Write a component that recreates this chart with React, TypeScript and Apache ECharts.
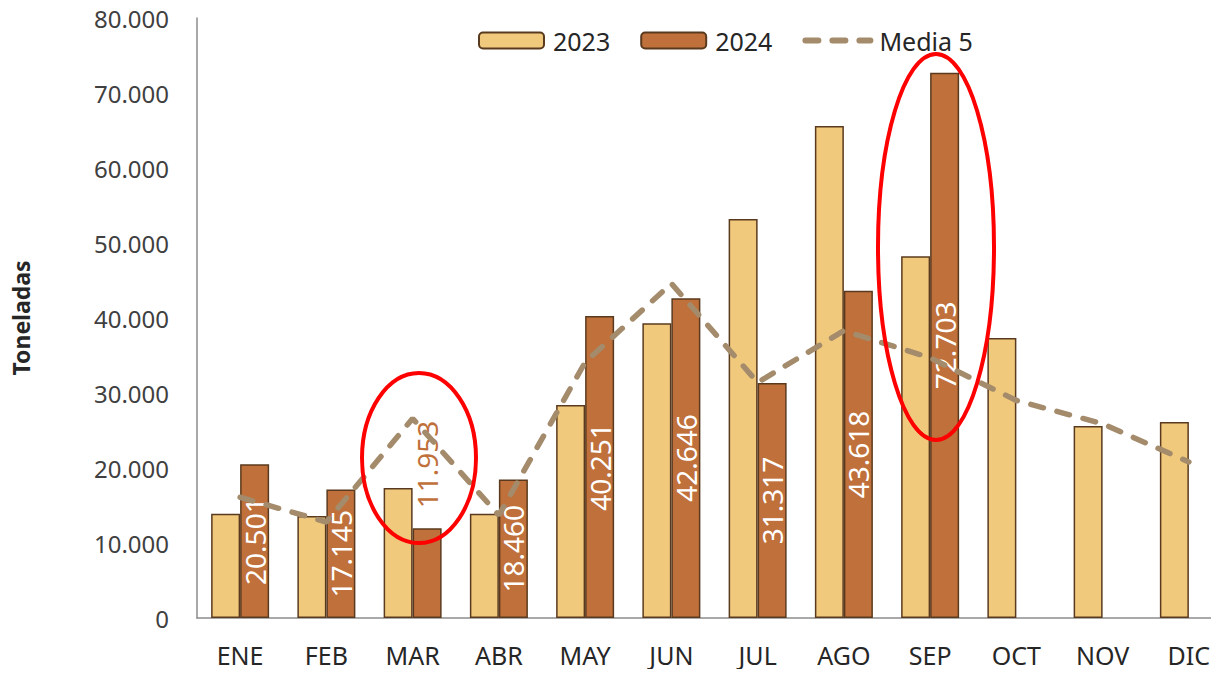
import React, { useEffect, useRef } from "react";
import * as echarts from "echarts";

const categories = ["ENE", "FEB", "MAR", "ABR", "MAY", "JUN", "JUL", "AGO", "SEP", "OCT", "NOV", "DIC"];
const values2023 = [13900, 13600, 17350, 13900, 28400, 39300, 53200, 65600, 48250, 37350, 25600, 26150];
const values2024: (number | null)[] = [20501, 17145, 11953, 18460, 40251, 42646, 31317, 43618, 72703, null, null, null];
const media5 = [16100, 12800, 26600, 13700, 34100, 44600, 31400, 38300, 34700, 29000, 25900, 20800];
const yTicks = { min: 0, max: 80000, interval: 10000 };

const FONT = "'Noto Sans', 'Open Sans', sans-serif";
const fmt = (v: number) => String(Math.round(v)).replace(/\B(?=(\d{3})+(?!\d))/g, ".");

export default function App() {
  const ref = useRef<HTMLDivElement>(null);
  useEffect(() => {
    if (!ref.current) return;
    const chart = echarts.init(ref.current, null, { renderer: "svg" });
    const data2024 = values2024.map((v, i) => {
      if (v === null) return null;
      if (i === 2) {
        return {
          value: v,
          label: {
            show: true,
            position: "top",
            distance: 20,
            rotate: 90,
            align: "left",
            verticalAlign: "middle",
            color: "#C0703A",
          },
        };
      }
      return v;
    });
    chart.setOption({
      animation: false,
      textStyle: { fontFamily: FONT },
      grid: { left: 197, top: 18, width: 1035, height: 600, containLabel: false },
      legend: {
        top: 28,
        left: 478,
        padding: 0,
        itemWidth: 65,
        itemHeight: 16,
        itemGap: 30,
        textStyle: { fontSize: 25, color: "#262626", fontFamily: FONT, padding: [0, 0, 0, 4] },
        data: [
          { name: "2023" },
          { name: "2024" },
          { name: "Media 5", itemStyle: { opacity: 0 }, lineStyle: { width: 6 } },
        ],
      },
      xAxis: {
        type: "category",
        data: categories,
        axisLine: { lineStyle: { color: "#8c8c8c", width: 1.5 } },
        axisTick: { show: false },
        axisLabel: { fontSize: 25, color: "#262626", margin: 24, fontFamily: FONT },
      },
      yAxis: {
        type: "value",
        ...yTicks,
        name: "Toneladas",
        nameLocation: "middle",
        nameGap: 165,
        nameTextStyle: { fontSize: 23, fontWeight: "bold", color: "#262626", fontFamily: FONT },
        axisLine: { show: true, lineStyle: { color: "#8c8c8c", width: 1.5 } },
        axisTick: { show: false },
        splitLine: { show: false },
        axisLabel: { fontSize: 24, color: "#404040", margin: 28, formatter: (v: number) => fmt(v), fontFamily: FONT },
      },
      series: [
        {
          name: "2023",
          type: "bar",
          data: values2023,
          barWidth: 29,
          barGap: "0%",
          itemStyle: { color: "#F0C97C", borderColor: "#5A3A1E", borderWidth: 1.5 },
        },
        {
          name: "2024",
          type: "bar",
          data: data2024,
          barWidth: 29,
          itemStyle: { color: "#C0703A", borderColor: "#5A3A1E", borderWidth: 1.5 },
          label: {
            show: true,
            position: "inside",
            rotate: 90,
            color: "#ffffff",
            fontSize: 28,
            fontFamily: FONT,
            formatter: (p: any) => fmt(p.value),
          },
        },
        {
          name: "Media 5",
          type: "line",
          data: media5,
          symbol: "none",
          z: 5,
          lineStyle: { color: "#A38B6B", width: 5.5, type: [13, 14], cap: "round" },
          itemStyle: { color: "#A38B6B" },
        },
      ],
      graphic: [
        {
          type: "ellipse",
          shape: { cx: 419, cy: 458, rx: 57, ry: 85 },
          style: { fill: "none", stroke: "#FF0000", lineWidth: 4 },
          z: 100,
        },
        {
          type: "ellipse",
          shape: { cx: 936, cy: 247, rx: 58, ry: 193 },
          style: { fill: "none", stroke: "#FF0000", lineWidth: 4 },
          z: 100,
        },
      ],
    });
    return () => chart.dispose();
  }, []);
  return (
    <div style={{ width: 1219, height: 677, margin: -8, overflow: "hidden", position: "relative" }}>
      <div ref={ref} style={{ width: 1240, height: 677 }} />
    </div>
  );
}
